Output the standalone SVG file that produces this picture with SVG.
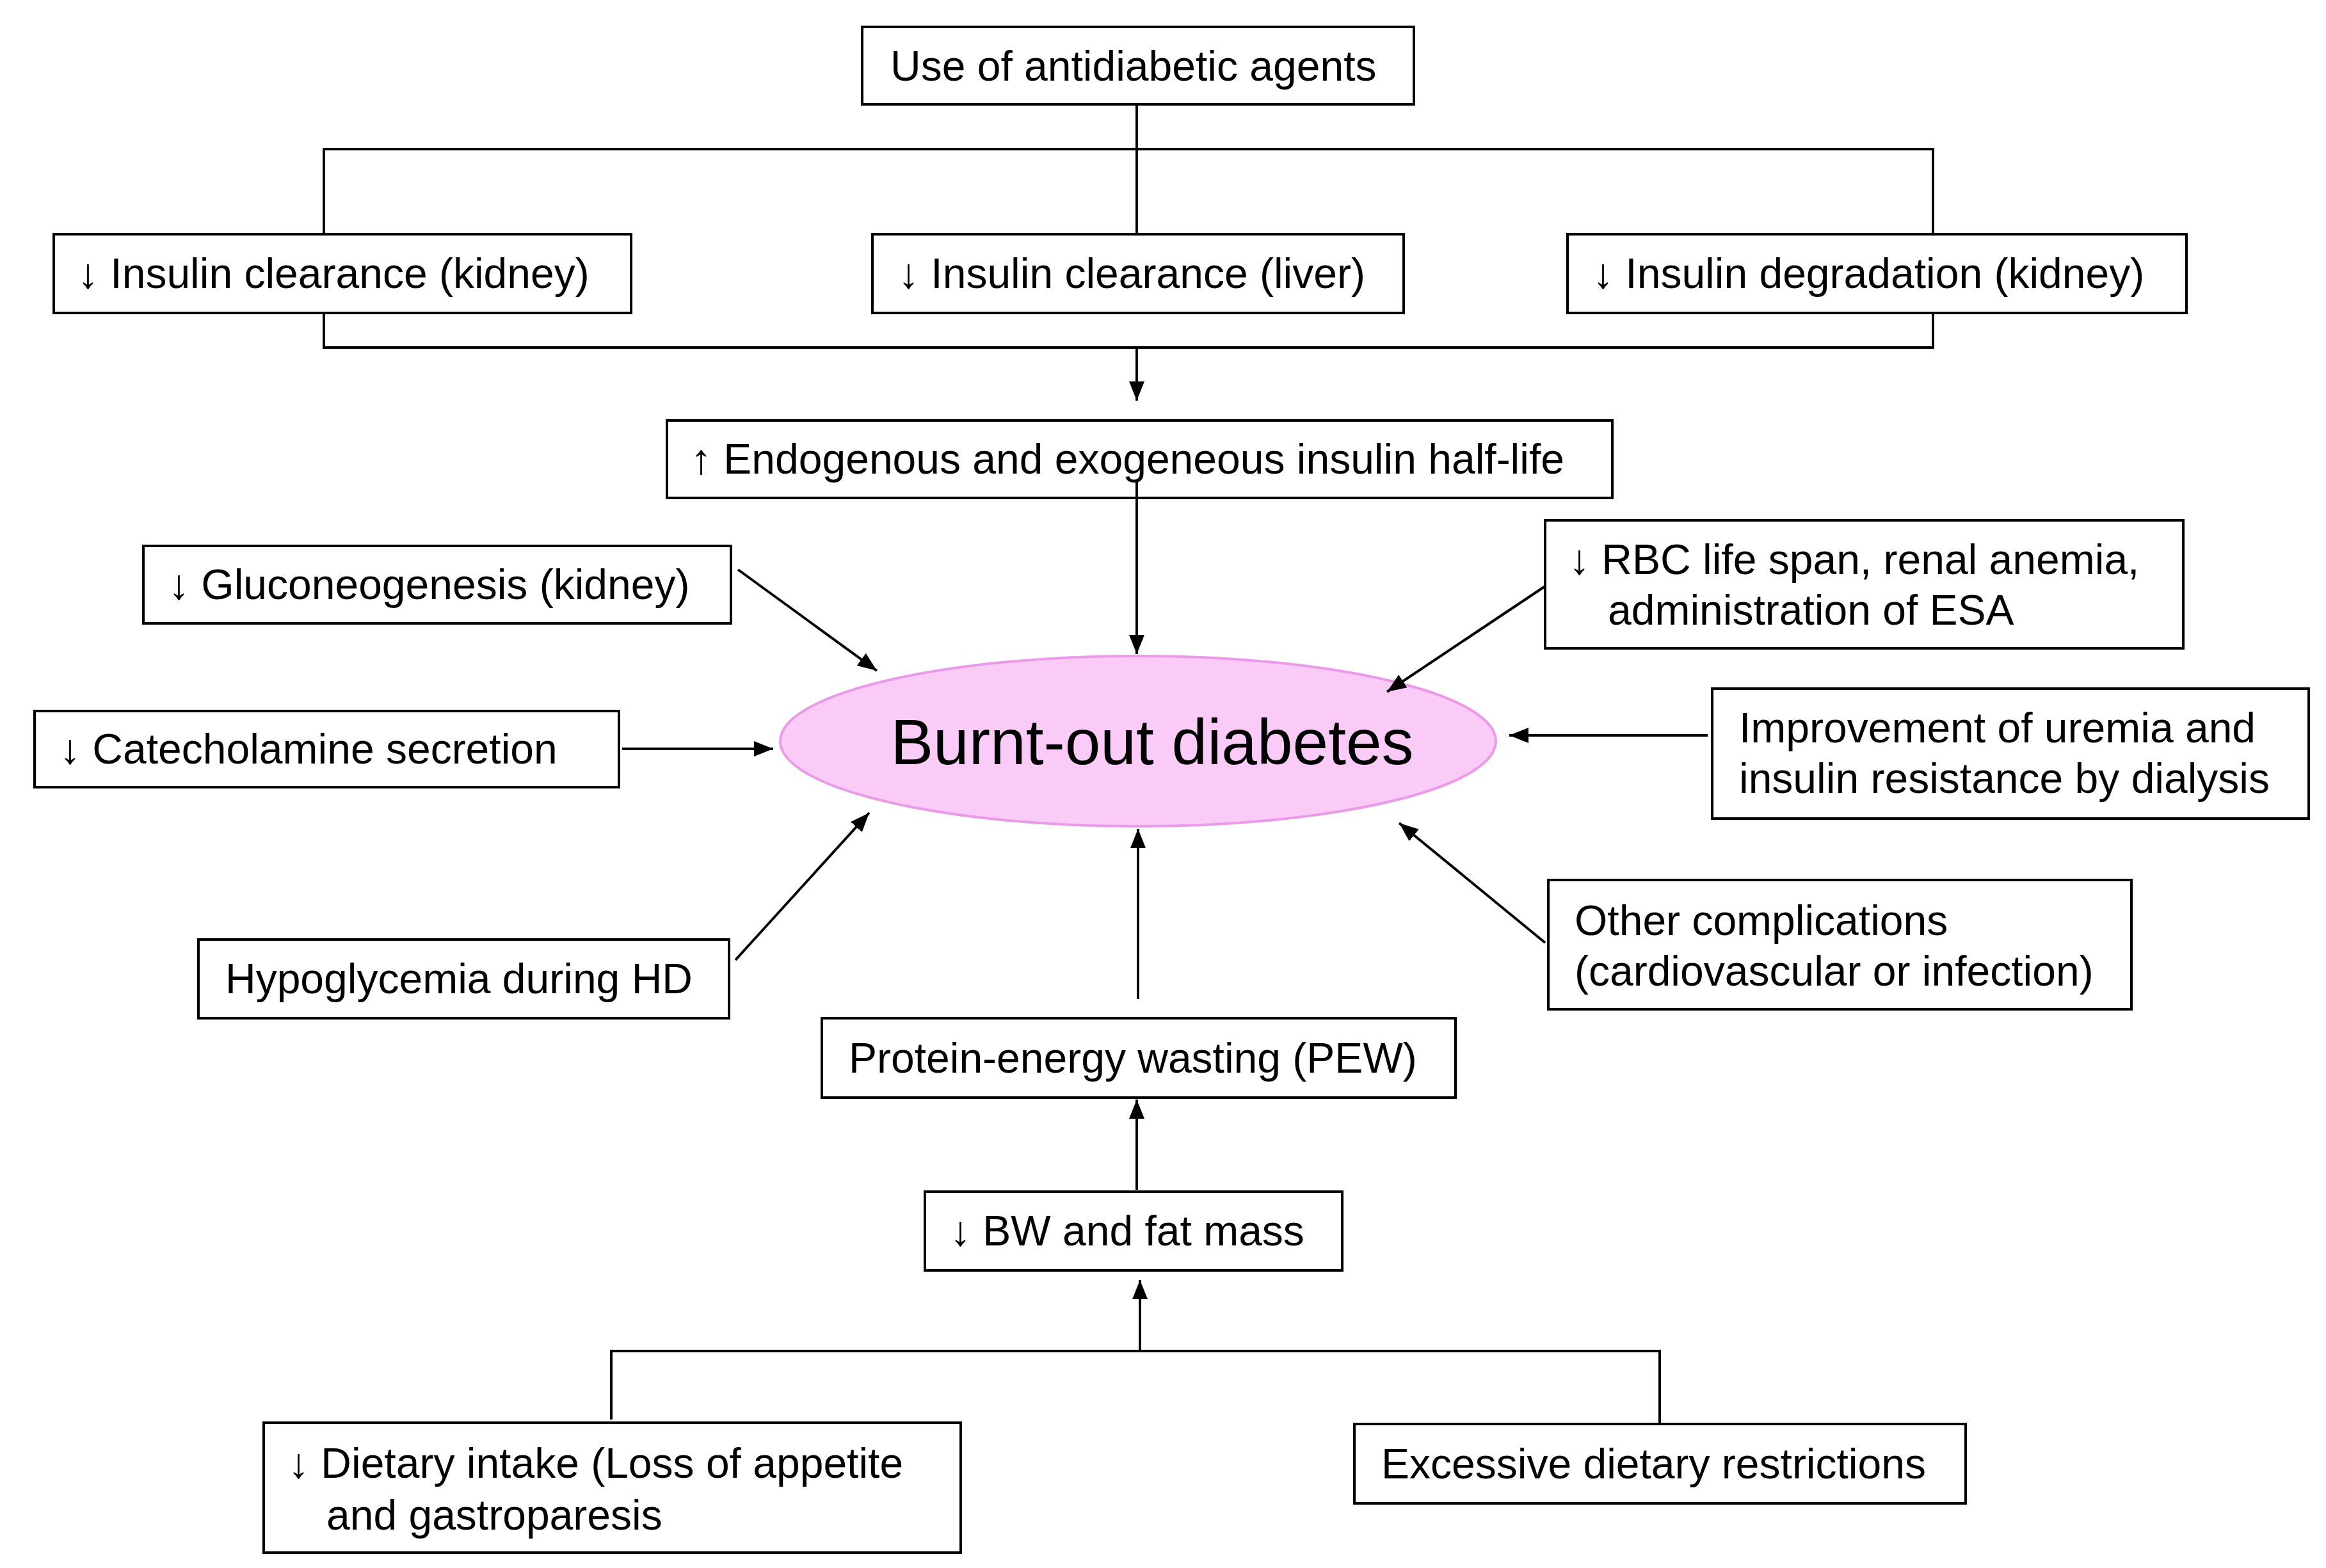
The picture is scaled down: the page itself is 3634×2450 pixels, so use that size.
<svg xmlns="http://www.w3.org/2000/svg" width="3634" height="2450" viewBox="0 0 3634 2450">
<style>
.b{fill:#fff;stroke:#000;stroke-width:4}
.t{font-family:"Liberation Sans",Arial,sans-serif;font-size:66px;fill:#000}
.c{stroke:#000;stroke-width:4;fill:none}
</style>
<defs>
<marker id="m" viewBox="0 0 10 10" refX="10" refY="5" markerWidth="30" markerHeight="30" markerUnits="userSpaceOnUse" orient="auto"><path d="M0,1L10,5L0,9z" fill="#000"/></marker></defs>
<rect width="3634" height="2450" fill="#fff"/>
<g id="n1"><rect class="b" x="1347" y="42" width="862" height="121"/><text class="t" x="1391" y="126">Use of antidiabetic agents</text></g>
<g id="n2"><rect class="b" x="84" y="366" width="902" height="123"/><text class="t" x="121" y="450">↓ Insulin clearance (kidney)</text></g>
<g id="n3"><rect class="b" x="1363" y="366" width="830" height="123"/><text class="t" x="1403" y="450">↓ Insulin clearance (liver)</text></g>
<g id="n4"><rect class="b" x="2449" y="366" width="967" height="123"/><text class="t" x="2488" y="450">↓ Insulin degradation (kidney)</text></g>
<g id="n5"><rect class="b" x="1042" y="657" width="1477" height="121"/><text class="t" x="1079" y="740">↑ Endogenous and exogeneous insulin half-life</text></g>
<g id="n6"><rect class="b" x="224" y="853" width="918" height="121"/><text class="t" x="263" y="936">↓ Gluconeogenesis (kidney)</text></g>
<g id="n7"><rect class="b" x="54" y="1111" width="913" height="119"/><text class="t" x="93" y="1193">↓ Catecholamine secretion</text></g>
<g id="n8"><rect class="b" x="310" y="1468" width="829" height="123"/><text class="t" x="352" y="1552">Hypoglycemia during HD</text></g>
<g id="n9"><rect class="b" x="2414" y="813" width="997" height="200"/><text class="t" x="2451" y="897">↓ RBC life span, renal anemia,</text><text class="t" x="2512" y="976">administration of ESA</text></g>
<g id="n10"><rect class="b" x="2675" y="1076" width="932" height="203"/><text class="t" x="2717" y="1160">Improvement of uremia and</text><text class="t" x="2717" y="1239">insulin resistance by dialysis</text></g>
<g id="n11"><rect class="b" x="2419" y="1375" width="911" height="202"/><text class="t" x="2460" y="1461">Other complications</text><text class="t" x="2460" y="1540">(cardiovascular or infection)</text></g>
<g id="center"><ellipse cx="1778" cy="1158" rx="559" ry="133" fill="#F9CBF6" stroke="#EA9AE8" stroke-width="4"/><text x="1800" y="1194" text-anchor="middle" style="font-family:'Liberation Sans',Arial,sans-serif;font-size:100px">Burnt-out diabetes</text></g>
<g id="n12"><rect class="b" x="1284" y="1591" width="990" height="124"/><text class="t" x="1326" y="1676">Protein-energy wasting (PEW)</text></g>
<g id="n13"><rect class="b" x="1445" y="1862" width="652" height="123"/><text class="t" x="1484" y="1946">↓ BW and fat mass</text></g>
<g id="n14"><rect class="b" x="412" y="2223" width="1089" height="203"/><text class="t" x="450" y="2309">↓ Dietary intake (Loss of appetite</text><text class="t" x="510" y="2390">and gastroparesis</text></g>
<g id="n15"><rect class="b" x="2116" y="2225" width="955" height="124"/><text class="t" x="2158" y="2310">Excessive dietary restrictions</text></g>
<g id="connectors">
<path class="c" d="M1776,163V366M506,366V233H3020V366M506,489V543H3020V489"/>
<path class="c" marker-end="url(#m)" d="M1776,543V626"/>
<path class="c" marker-end="url(#m)" d="M1776,750V1022"/>
<path class="c" marker-end="url(#m)" d="M1153,890L1370,1048"/>
<path class="c" marker-end="url(#m)" d="M972,1170H1208"/>
<path class="c" marker-end="url(#m)" d="M1149,1500L1358,1270"/>
<path class="c" marker-end="url(#m)" d="M2414,916L2167,1081"/>
<path class="c" marker-end="url(#m)" d="M2668,1149H2358"/>
<path class="c" marker-end="url(#m)" d="M2414,1473L2186,1286"/>
<path class="c" marker-end="url(#m)" d="M1778,1561V1295"/>
<path class="c" marker-end="url(#m)" d="M1776,1859V1718"/>
<path class="c" d="M955,2218V2111H2593V2225"/>
<path class="c" marker-end="url(#m)" d="M1781,2111V2000"/>
</g>
</svg>
